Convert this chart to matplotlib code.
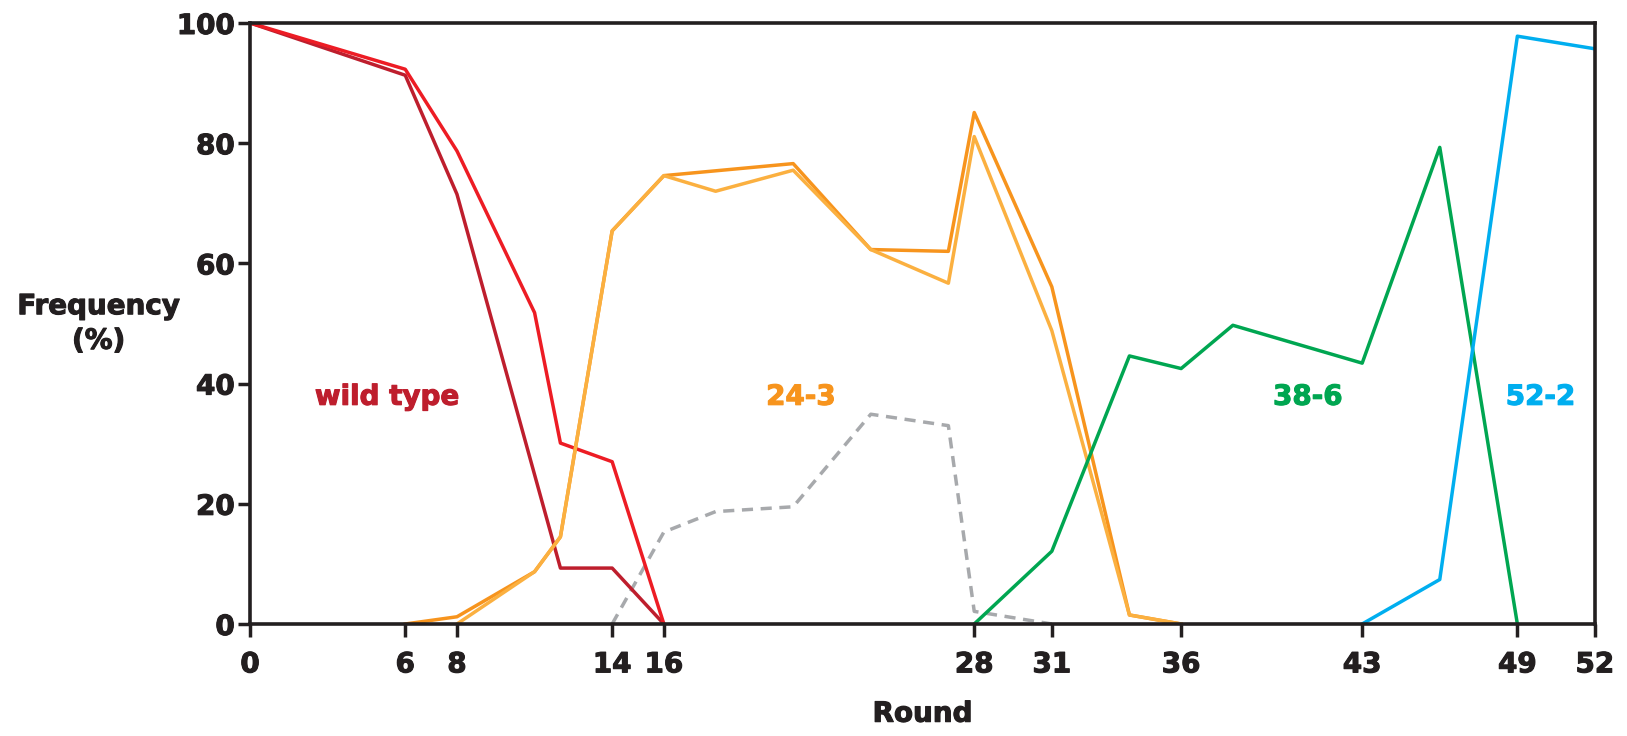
import matplotlib
matplotlib.use("Agg")
import matplotlib.pyplot as plt
import matplotlib.patheffects as pe

# rounds on the x axis that get a tick
x_ticks = [0, 6, 8, 14, 16, 28, 31, 36, 43, 49, 52]
y_ticks = [0, 20, 40, 60, 80, 100]

# wild type (two replicates)
wt_a_x = [0, 6, 8, 11, 12, 14, 16]
wt_a_y = [100, 92.3, 78.7, 51.8, 30.1, 27.0, 0]
wt_b_x = [0, 6, 8, 12, 14, 16]
wt_b_y = [100, 91.3, 71.5, 9.3, 9.3, 0]

# 24-3 (two replicates)
v24_a_x = [6, 8, 11, 12, 14, 16, 21, 24, 27, 28, 31, 34, 36]
v24_a_y = [0, 1.2, 8.7, 14.5, 65.4, 74.6, 76.6, 62.3, 62.0, 85.1, 56.1, 1.5, 0]
v24_b_x = [8, 11, 12, 14, 16, 18, 21, 24, 27, 28, 31, 34, 36]
v24_b_y = [0, 8.7, 14.5, 65.4, 74.6, 72.0, 75.5, 62.3, 56.7, 81.1, 48.8, 1.5, 0]

# intermediate (dashed grey)
mid_x = [14, 16, 18, 21, 24, 27, 28, 31]
mid_y = [0, 15.3, 18.7, 19.5, 34.9, 33.0, 2.1, 0]

# 38-6
v38_x = [28, 31, 34, 36, 38, 43, 46, 49]
v38_y = [0, 12.1, 44.6, 42.5, 49.7, 43.4, 79.3, 0]

# 52-2
v52_x = [43, 46, 49, 52]
v52_y = [0, 7.4, 97.8, 95.7]

labels = ["wild type", "24-3", "38-6", "52-2"]
label_x = [5.3, 21.3, 40.9, 49.9]
label_y = 37.8

c_wt_a = "#ED1C24"
c_wt_b = "#BE1E2D"
c_24_a = "#F7941D"
c_24_b = "#FBB040"
c_38 = "#00A651"
c_52 = "#00AEEF"
c_mid = "#A7A9AC"
c_ax = "#231F20"

plt.rcParams["font.family"] = "DejaVu Sans"
plt.rcParams["font.weight"] = "bold"

fs = 20


def heavy(c):
    # thicken the glyphs a little, the original font is heavier
    return [pe.withStroke(linewidth=0.8, foreground=c)]


fig = plt.figure(figsize=(16.27, 7.36), dpi=100)
ax = fig.add_axes([0.1537, 0.1522, 0.8266, 0.8166])

lw = 2.5
ax.plot(mid_x, mid_y, color=c_mid, lw=lw, linestyle=(0, (3.2, 2.2)))
ax.plot(wt_b_x, wt_b_y, color=c_wt_b, lw=lw)
ax.plot(wt_a_x, wt_a_y, color=c_wt_a, lw=lw)
ax.plot(v24_a_x, v24_a_y, color=c_24_a, lw=lw)
ax.plot(v24_b_x, v24_b_y, color=c_24_b, lw=lw)
ax.plot(v38_x, v38_y, color=c_38, lw=lw)
ax.plot(v52_x, v52_y, color=c_52, lw=lw)

label_colors = [c_wt_b, c_24_a, c_38, c_52]
for t, x, c in zip(labels, label_x, label_colors):
    ax.text(x, label_y, t, color=c, fontsize=fs, fontweight="bold",
            ha="center", va="center", path_effects=heavy(c))

ax.set_xlim(0, 52)
ax.set_ylim(0, 100)
ax.set_xticks(x_ticks)
ax.set_yticks(y_ticks)
ax.tick_params(axis="both", direction="out", length=9, width=2.5,
               color=c_ax, labelsize=fs, labelcolor=c_ax)
ax.tick_params(axis="x", pad=10)
ax.tick_params(axis="y", pad=2)
for s in ax.spines.values():
    s.set_linewidth(2.6)
    s.set_color(c_ax)
for lab in ax.get_xticklabels() + ax.get_yticklabels():
    lab.set_fontweight("bold")
    lab.set_path_effects(heavy(c_ax))

ax.set_xlabel("Round", fontsize=fs, fontweight="bold", color=c_ax,
              path_effects=heavy(c_ax))
ax.xaxis.set_label_coords(0.5, -0.126)
ax.set_ylabel("Frequency\n(%)", fontsize=fs, fontweight="bold", color=c_ax,
              rotation=0, ha="center", va="center", linespacing=1.3,
              path_effects=heavy(c_ax))
ax.yaxis.set_label_coords(-0.1126, 0.5)

fig.savefig("out.png", dpi=100)
